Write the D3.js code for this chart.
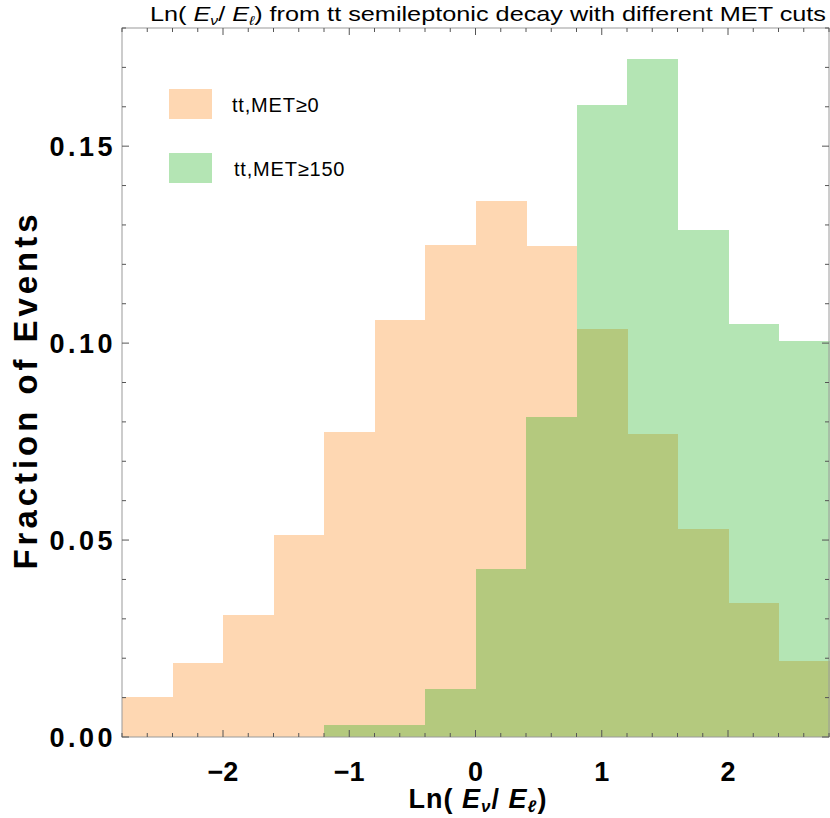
<!DOCTYPE html>
<html><head><meta charset="utf-8">
<script src="https://cdn.jsdelivr.net/npm/d3@7"></script>
<style>body{margin:0;background:#fff}svg{display:block}</style>
</head><body>
<script>
const binEdges = [-2.8,-2.4,-2.0,-1.6,-1.2,-0.8,-0.4,0.0,0.4,0.8,1.2,1.6,2.0,2.4,2.8];
const met0 = [0.0101,0.0188,0.0311,0.0513,0.0774,0.1058,0.1249,0.1361,0.1246,0.1036,0.0769,0.0528,0.0340,0.0193];
const met150 = [0,0,0,0,0.0030,0.0030,0.0122,0.0426,0.0812,0.1604,0.1722,0.1287,0.1048,0.1005];
const seriesNames = ["tt,MET\u22650","tt,MET\u2265150"];
const xTicks = [-2,-1,0,1,2];
const yTicks = [0.00,0.05,0.10,0.15];

const W=830,H=818;
const m={l:122,r:829,t:28,b:737};
const svg=d3.select("body").append("svg").attr("width",W).attr("height",H);
const x=d3.scaleLinear().domain([-2.8,2.8]).range([m.l,m.r]);
const y=d3.scaleLinear().domain([0,0.18]).range([m.b,m.t]);

const cOrange="rgb(254,215,178)", cGreen="rgb(180,229,180)", cOlive="rgb(180,201,126)";
const bins=met0.map((v,i)=>({x0:binEdges[i],x1:binEdges[i+1],a:v,b:met150[i]}));

const bars=svg.append("g").attr("shape-rendering","crispEdges");
bars.append("g").selectAll("rect").data(bins).join("rect")
 .attr("x",d=>x(d.x0)).attr("width",d=>x(d.x1)-x(d.x0)+0.5)
 .attr("y",d=>y(d.a)).attr("height",d=>y(0)-y(d.a)).attr("fill",cOrange);
bars.append("g").selectAll("rect").data(bins.filter(d=>d.b>0)).join("rect")
 .attr("x",d=>x(d.x0)).attr("width",d=>x(d.x1)-x(d.x0)+0.5)
 .attr("y",d=>y(d.b)).attr("height",d=>y(0)-y(d.b)).attr("fill",cGreen);
bars.append("g").selectAll("rect").data(bins.filter(d=>Math.min(d.a,d.b)>0)).join("rect")
 .attr("x",d=>x(d.x0)).attr("width",d=>x(d.x1)-x(d.x0)+0.5)
 .attr("y",d=>y(Math.min(d.a,d.b))).attr("height",d=>y(0)-y(Math.min(d.a,d.b))).attr("fill",cOlive);

// frame
svg.append("rect").attr("x",m.l).attr("y",m.t).attr("width",m.r-m.l).attr("height",m.b-m.t)
 .attr("fill","none").attr("stroke","#9a9a9a").attr("stroke-width",1);

const tickCol="#555";
const xMinor=d3.range(-2.8,2.8001,0.2).map(v=>+v.toFixed(2));
const yMinor=d3.range(0,0.1801,0.01).map(v=>+v.toFixed(3));
const isMajX=v=>Math.abs(v-Math.round(v))<1e-6;
const isMajY=v=>Math.abs(v*20-Math.round(v*20))<1e-6;
const tg=svg.append("g").attr("stroke",tickCol).attr("stroke-width",1);
xMinor.forEach(v=>{
  const L=isMajX(v)?7:4;
  tg.append("line").attr("x1",x(v)).attr("x2",x(v)).attr("y1",m.b).attr("y2",m.b-L);
  tg.append("line").attr("x1",x(v)).attr("x2",x(v)).attr("y1",m.t).attr("y2",m.t+L);
});
yMinor.forEach(v=>{
  const L=isMajY(v)?7:4;
  tg.append("line").attr("y1",y(v)).attr("y2",y(v)).attr("x1",m.l).attr("x2",m.l+L);
  tg.append("line").attr("y1",y(v)).attr("y2",y(v)).attr("x1",m.r).attr("x2",m.r-L);
});

const bold="'Liberation Sans', Arial, sans-serif";
svg.append("g").selectAll("text").data(xTicks).join("text")
 .attr("x",d=>x(d)).attr("y",781).attr("text-anchor","middle")
 .attr("font-family",bold).attr("font-weight","bold").attr("font-size",27)
 .text(d=>d<0?"\u2212"+Math.abs(d):d);
svg.append("g").selectAll("text").data(yTicks).join("text")
 .attr("x",116).attr("y",d=>y(d)+10).attr("text-anchor","end")
 .attr("font-family",bold).attr("font-weight","bold").attr("font-size",27)
 .attr("letter-spacing",3.5)
 .text(d=>d.toFixed(2));

// axis titles
svg.append("text").attr("transform","translate(37,392) rotate(-90)").attr("text-anchor","middle")
 .attr("font-family",bold).attr("font-weight","bold").attr("font-size",33)
 .attr("textLength",355).attr("lengthAdjust","spacing")
 .text("Fraction of Events");
const xt=svg.append("text").attr("x",478).attr("y",808).attr("text-anchor","middle")
 .attr("font-family",bold).attr("font-weight","bold").attr("font-size",27).attr("letter-spacing",1);
xt.append("tspan").text("Ln( ");
xt.append("tspan").attr("font-style","italic").text("E");
xt.append("tspan").attr("font-size",17).attr("dy",4).attr("font-style","italic").text("\u03bd");
xt.append("tspan").attr("dy",-4).text("/ ");
xt.append("tspan").attr("font-style","italic").text("E");
xt.append("tspan").attr("font-size",17).attr("dy",4).attr("font-style","italic").text("\u2113");
xt.append("tspan").attr("dy",-4).text(")");

// title
const tt=svg.append("text").attr("x",488).attr("y",21).attr("text-anchor","middle")
 .attr("font-family","'Liberation Sans Narrow', 'Liberation Sans', Arial, sans-serif").attr("font-size",21)
 .attr("textLength",676).attr("lengthAdjust","spacingAndGlyphs");
tt.append("tspan").text("Ln( ");
tt.append("tspan").attr("font-style","italic").text("E");
tt.append("tspan").attr("font-size",13).attr("dy",4).attr("font-style","italic").text("\u03bd");
tt.append("tspan").attr("dy",-4).text("/ ");
tt.append("tspan").attr("font-style","italic").text("E");
tt.append("tspan").attr("font-size",13).attr("dy",4).attr("font-style","italic").text("\u2113");
tt.append("tspan").attr("dy",-4).text(") from tt semileptonic decay with different MET cuts");

// legend
const leg=[{n:seriesNames[0],c:cOrange,y:89,tx:232},{n:seriesNames[1],c:cGreen,y:153,tx:234}];
leg.forEach(l=>{
  svg.append("rect").attr("x",169).attr("y",l.y).attr("width",43).attr("height",30).attr("fill",l.c);
  svg.append("text").attr("x",l.tx).attr("y",l.y+23).attr("font-family","'Liberation Sans', Arial, sans-serif")
   .attr("font-size",20).attr("letter-spacing",0.8).text(l.n);
});
</script>
</body></html>
